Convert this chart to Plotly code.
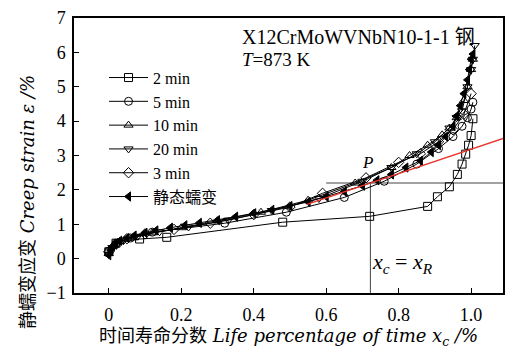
import plotly.graph_objects as go

# ---- data ----
x_2min = [0.0, 0.02, 0.085, 0.16, 0.48, 0.72, 0.88, 0.907, 0.94, 0.962, 0.975, 0.985, 0.993, 1.0, 1.005]
y_2min = [0.2, 0.45, 0.57, 0.62, 1.06, 1.23, 1.52, 1.8, 2.09, 2.45, 2.75, 3.04, 3.3, 3.58, 4.07]

x_5min = [0.0, 0.02, 0.06, 0.12, 0.32, 0.49, 0.65, 0.76, 0.85, 0.91, 0.95, 0.975, 0.99, 1.0, 1.005]
y_5min = [0.22, 0.45, 0.6, 0.77, 1.03, 1.35, 1.78, 2.25, 2.75, 3.2, 3.55, 3.85, 4.1, 4.35, 4.55]

x_10min = [0.0, 0.01, 0.03, 0.07, 0.12, 0.2, 0.3, 0.42, 0.55, 0.68, 0.78, 0.83, 0.88, 0.92, 0.94, 0.96, 0.98, 0.99, 1.0, 1.005]
y_10min = [0.15, 0.35, 0.5, 0.62, 0.75, 0.9, 1.1, 1.35, 1.7, 2.2, 2.65, 3.0, 3.3, 3.6, 3.8, 4.1, 4.6, 5.0, 5.5, 5.8]

x_20min = [0.0, 0.01, 0.04, 0.08, 0.14, 0.22, 0.33, 0.45, 0.58, 0.7, 0.78, 0.85, 0.9, 0.94, 0.96, 0.975, 0.99, 1.0, 1.005, 1.01]
y_20min = [0.12, 0.32, 0.52, 0.65, 0.78, 0.92, 1.12, 1.4, 1.75, 2.25, 2.65, 3.05, 3.4, 3.8, 4.1, 4.3, 5.0, 5.5, 5.8, 6.2]

x_3min = [0.0, 0.02, 0.05, 0.1, 0.18, 0.28, 0.4, 0.5, 0.59, 0.71, 0.8, 0.86, 0.91, 0.95, 0.98, 1.0]
y_3min = [0.2, 0.42, 0.58, 0.72, 0.85, 1.03, 1.28, 1.5, 1.9, 2.35, 2.8, 3.05, 3.4, 3.75, 4.2, 4.8]

x_static = [0.0, 0.005, 0.01, 0.02, 0.03, 0.05, 0.07, 0.1, 0.13, 0.17, 0.21, 0.25, 0.3, 0.35, 0.4, 0.45,
            0.5, 0.55, 0.6, 0.65, 0.7, 0.74, 0.78, 0.82, 0.86, 0.89, 0.91, 0.93, 0.95, 0.96, 0.97, 0.98,
            0.99, 0.995, 1.0, 1.005]
y_static = [0.1, 0.25, 0.35, 0.45, 0.52, 0.6, 0.67, 0.75, 0.82, 0.9, 0.97, 1.04, 1.12, 1.22, 1.32, 1.42,
            1.53, 1.65, 1.8, 1.95, 2.12, 2.28, 2.45, 2.65, 2.85, 3.1, 3.3, 3.55, 3.85, 4.15, 4.45, 4.8,
            5.2, 5.5, 5.8, 5.95]

tangent_x = [0.547, 1.09]
tangent_y = [1.58, 3.5]
x_c = 0.722
eps_c = 2.2
guide_x_start = 0.6

x_ticks = [0, 0.2, 0.4, 0.6, 0.8, 1.0]
x_tick_labels = ["0", "0.2", "0.4", "0.6", "0.8", "1.0"]
y_ticks = [-1, 0, 1, 2, 3, 4, 5, 6, 7]

SERIF = "'Liberation Serif', 'Times New Roman', 'Noto Sans CJK SC', serif"
TITLE_FONT = "'DejaVu Serif', 'Noto Sans CJK SC', serif"

series = [
    ("2 min", x_2min, y_2min, "square-open"),
    ("5 min", x_5min, y_5min, "circle-open"),
    ("10 min", x_10min, y_10min, "triangle-up-open"),
    ("20 min", x_20min, y_20min, "triangle-down-open"),
    ("3 min", x_3min, y_3min, "diamond-open"),
    ("静态蠕变", x_static, y_static, "triangle-left"),
]

fig = go.Figure()

# reference guide lines (behind)
fig.add_trace(go.Scatter(x=[guide_x_start, 1.1], y=[eps_c, eps_c], mode="lines",
                         line=dict(color="#444", width=1), showlegend=False, hoverinfo="skip"))
fig.add_trace(go.Scatter(x=[x_c, x_c], y=[eps_c, -1], mode="lines",
                         line=dict(color="#444", width=1), showlegend=False, hoverinfo="skip"))

for name, xs, ys, sym in series:
    fig.add_trace(go.Scatter(
        x=xs, y=ys, mode="lines+markers", name=name,
        line=dict(color="black", width=1),
        marker=dict(symbol=sym, size=8, color="black", line=dict(color="black", width=1)),
    ))

fig.add_trace(go.Scatter(x=tangent_x, y=tangent_y, mode="lines",
                         line=dict(color="#e8322a", width=1.3), showlegend=False, hoverinfo="skip"))

fig.add_annotation(x=0.363, y=6.45, xref="x", yref="y", xanchor="left", yanchor="middle",
                   text="X12CrMoWVNbN10-1-1 钢", showarrow=False,
                   font=dict(family=SERIF, size=20, color="black"))
fig.add_annotation(x=0.363, y=5.8, xref="x", yref="y", xanchor="left", yanchor="middle",
                   text="<i>T</i>=873 K", showarrow=False,
                   font=dict(family=SERIF, size=19, color="black"))
fig.add_annotation(x=0.714, y=2.8, xref="x", yref="y", xanchor="center", yanchor="middle",
                   text="<i>P</i>", showarrow=False,
                   font=dict(family=SERIF, size=17, color="black"))
fig.add_annotation(x=0.81, y=-0.12, xref="x", yref="y", xanchor="center", yanchor="middle",
                   text="<i>x</i><sub><i>c</i></sub> = <i>x</i><sub><i>R</i></sub>", showarrow=False,
                   font=dict(family=SERIF, size=22, color="black"))

# axis titles
fig.add_annotation(x=0.5, y=-0.16, xref="paper", yref="paper", xanchor="center", yanchor="middle",
                   text="时间寿命分数 <i>Life percentage of time x</i><sub><i>c</i></sub><i> /%</i>",
                   showarrow=False, font=dict(family=TITLE_FONT, size=18, color="black"))
fig.add_annotation(x=-0.11, y=0.33, xref="paper", yref="paper", xanchor="center", yanchor="middle",
                   text="静蠕变应变 <i>Creep strain ε /%</i>", textangle=-90,
                   showarrow=False, font=dict(family=TITLE_FONT, size=18, color="black"))

fig.update_layout(
    width=513, height=352,
    margin=dict(l=74, r=8, t=14, b=59),
    paper_bgcolor="white", plot_bgcolor="white",
    font=dict(family=SERIF, size=18, color="black"),
    showlegend=True,
    legend=dict(x=0.07, y=0.845, xanchor="left", yanchor="top", bgcolor="rgba(0,0,0,0)",
                font=dict(family=SERIF, size=16, color="black"), tracegroupgap=0, itemwidth=39),
    xaxis=dict(range=[-0.096, 1.088], tickvals=x_ticks, ticktext=x_tick_labels,
               ticks="inside", ticklen=5, tickwidth=1.2, tickcolor="black", ticklabelstandoff=5,
               showline=True, mirror=True, linecolor="black", linewidth=1.5,
               showgrid=False, zeroline=False, tickfont=dict(family=SERIF, size=18)),
    yaxis=dict(range=[-1, 7], tickvals=y_ticks,
               ticks="inside", ticklen=5, tickwidth=1.2, tickcolor="black", ticklabelstandoff=3,
               showline=True, mirror=True, linecolor="black", linewidth=1.5,
               showgrid=False, zeroline=False, tickfont=dict(family=SERIF, size=18)),
)

fig.write_html("out.html")
